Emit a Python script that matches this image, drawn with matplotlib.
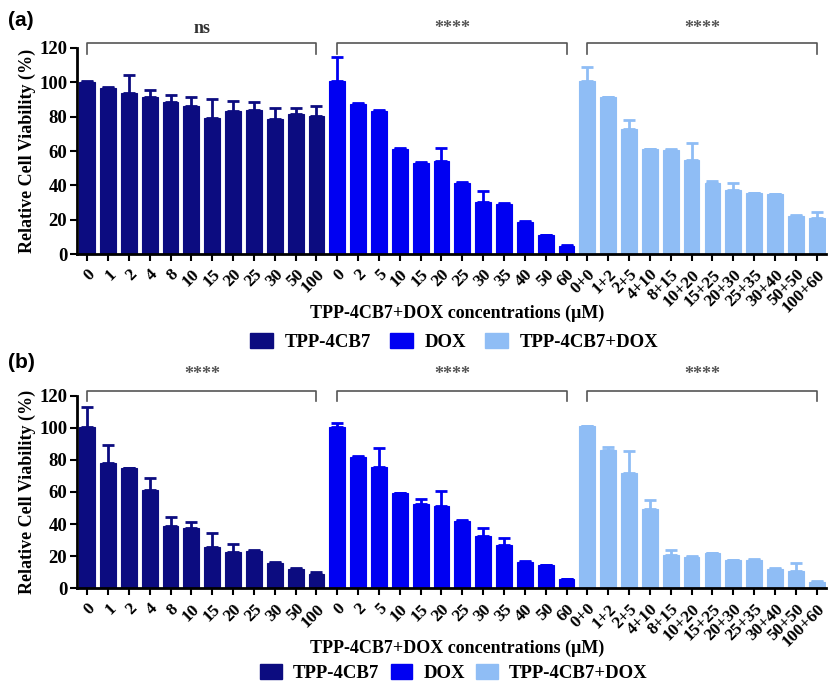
import matplotlib
matplotlib.use("Agg")
import matplotlib.pyplot as plt
from matplotlib.patches import Patch
import numpy as np

plt.rcParams['font.family'] = ['Liberation Serif', 'DejaVu Serif']

tpp_labels = ["0", "1", "2", "4", "8", "10", "15", "20", "25", "30", "50", "100"]
dox_labels = ["0", "2", "5", "10", "15", "20", "25", "30", "35", "40", "50", "60"]
combo_labels = ["0+0", "1+2", "2+5", "4+10", "8+15", "10+20", "15+25", "20+30",
                "25+35", "30+40", "50+50", "100+60"]
groups = ["TPP-4CB7", "DOX", "TPP-4CB7+DOX"]

# Panel (a)
a_tpp = [100, 96.5, 93.5, 91.3, 88.8, 86.4, 79, 83.3, 84.1, 78.8, 81.8, 80.6]
a_tpp_err = [0.5, 0.5, 11, 4.3, 3.7, 5.1, 11.1, 5.7, 4.7, 6.1, 3.5, 5.4]
a_dox = [100.5, 87.6, 83.3, 60.9, 53, 54.2, 41.6, 30.4, 29.1, 18.9, 10.9, 4.9]
a_dox_err = [14, 0.5, 0.5, 0.8, 0.8, 7.3, 0.5, 6.5, 0.5, 0.3, 0.3, 0.5]
a_combo = [100.5, 91.3, 73, 61, 60.7, 55, 41.2, 37.5, 35.5, 34.7, 22.4, 20.9]
a_combo_err = [8.5, 0.3, 5, 0.3, 0.3, 9.4, 1.5, 3.7, 0.3, 0.3, 0.3, 3.3]
a_sig = ["ns", "****", "****"]

# Panel (b)
b_tpp = [100.7, 78.3, 74.7, 61.2, 39, 37.8, 26, 22.6, 23, 16, 12.2, 8.7]
b_tpp_err = [12, 11, 0.3, 7.3, 5.2, 3.7, 8.3, 5.2, 1, 0.3, 0.5, 1.3]
b_dox = [100.7, 82, 75.8, 59.2, 52.5, 51.5, 42.1, 32.8, 27, 16.2, 14.3, 5.6]
b_dox_err = [2.5, 0.3, 11.4, 0.3, 3.3, 8.9, 0.5, 4.6, 4.1, 0.6, 0.2, 0.5]
b_combo = [101.1, 86.2, 72, 49.4, 20.8, 19.7, 22, 17.6, 17.6, 12.2, 11, 3.7]
b_combo_err = [0.3, 1.6, 13.7, 5.6, 3.1, 0.3, 0.3, 0.3, 0.4, 0.4, 4.6, 1.1]
b_sig = ["****", "****", "****"]

colors = ["#0c0c80", "#0000f2", "#8fbdf5"]

fig = plt.figure(figsize=(8.3, 6.87), dpi=100)

W, H = 830, 687
def axrect(left, top, right, bottom):
    return [left / W, 1 - bottom / H, (right - left) / W, (bottom - top) / H]

def draw_panel(ax, series, errs, sig, sig_y):
    labels = tpp_labels + dox_labels + combo_labels
    n = len(tpp_labels)
    for g, (vals, err) in enumerate(zip(series, errs)):
        x = np.arange(n) + g * n
        ax.bar(x, vals, width=0.76, color=colors[g], edgecolor=colors[g],
               linewidth=0.8, zorder=2)
        ax.errorbar(x, vals, yerr=[np.zeros(n), err], fmt='none',
                    ecolor=colors[g], elinewidth=2, capsize=4, capthick=2, zorder=1)
        x0, x1 = g * n, g * n + n - 1
        ax.plot([x0, x0, x1, x1], [116.5, 123, 123, 116.5], color="#555555",
                lw=1.2, clip_on=False)
        ax.text((x0 + x1) / 2, sig_y, sig[g], ha='center', va='center',
                fontsize=13, fontweight='bold',
                color="#333333" if sig[g] == "ns" else "#555555")
    ax.set_xlim(-0.49, 35.45)
    ax.set_ylim(0, 120)
    ax.set_yticks(range(0, 121, 20))
    ax.set_xticks(np.arange(len(labels)))
    ax.set_xticklabels(labels, rotation=45, ha='right', rotation_mode='anchor',
                       fontsize=12.5, fontweight='bold')
    for t in ax.get_yticklabels():
        t.set_fontweight('bold')
        t.set_fontsize(13.5)
    ax.tick_params(axis='both', direction='out', length=5, width=1.5, pad=2)
    ax.tick_params(axis='x', pad=4)
    ax.spines['top'].set_visible(False)
    ax.spines['right'].set_visible(False)
    ax.spines['left'].set_linewidth(2)
    ax.spines['bottom'].set_linewidth(2)
    ax.set_ylabel("Relative Cell Viability (%)", fontsize=13, fontweight='bold',
                  labelpad=2)

ax1 = fig.add_axes(axrect(77, 48, 826, 254))
draw_panel(ax1, [a_tpp, a_dox, a_combo], [a_tpp_err, a_dox_err, a_combo_err], a_sig, 131.5)
ax2 = fig.add_axes(axrect(77, 395.7, 826, 588.3))
draw_panel(ax2, [b_tpp, b_dox, b_combo], [b_tpp_err, b_dox_err, b_combo_err], b_sig, 133)

xlabel = "TPP-4CB7+DOX concentrations (\u03bcM)"
fig.text(457 / W, 1 - 313 / H, xlabel, ha='center', va='center',
         fontsize=13, fontweight='bold')
fig.text(457 / W, 1 - 648 / H, xlabel, ha='center', va='center',
         fontsize=13, fontweight='bold')

handles = [Patch(facecolor=c, edgecolor=c) for c in colors]
fig.legend(handles, groups, loc='center', bbox_to_anchor=(454 / W, 1 - 342 / H),
           ncol=3, frameon=False, prop={'weight': 'bold', 'size': 13.5},
           handlelength=1.25, handleheight=0.8, columnspacing=1.0, handletextpad=0.6)
fig.legend(handles, groups, loc='center', bbox_to_anchor=(454 / W, 1 - 673 / H),
           ncol=3, frameon=False, prop={'weight': 'bold', 'size': 13.5},
           handlelength=1.15, handleheight=0.8, columnspacing=0.6, handletextpad=0.6)

fig.text(8 / W, 1 - 20 / H, "(a)", fontsize=15, fontweight='bold',
         family='Liberation Sans', va='center', ha='left')
fig.text(8 / W, 1 - 363 / H, "(b)", fontsize=15, fontweight='bold',
         family='Liberation Sans', va='center', ha='left')

fig.savefig("out.png", dpi=100)
